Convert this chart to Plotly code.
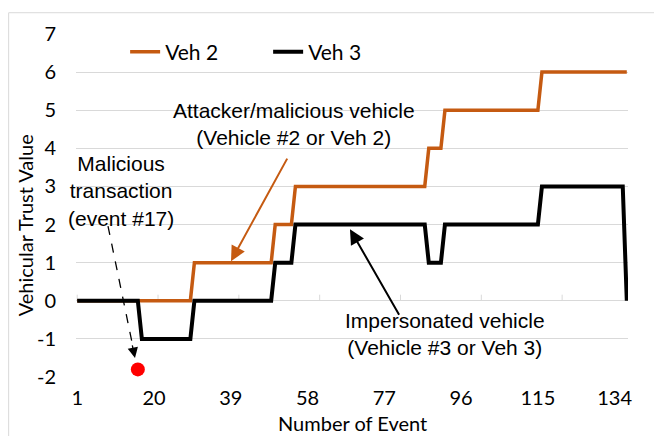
import plotly.graph_objects as go

# ---- data ----
events = list(range(1, 138))
veh2 = [0]*29 + [1]*20 + [2]*5 + [3]*33 + [4]*4 + [5]*24 + [6]*22
veh3 = [0]*16 + [-1]*13 + [0]*20 + [1]*5 + [2]*33 + [1]*4 + [2]*24 + [3]*21 + [0]*1
malicious_event = [16]
malicious_value = [-1.8]
x_tick_vals = [1, 20, 39, 58, 77, 96, 115, 134]
x_tick_text = [str(v) for v in x_tick_vals]
x_minor_ticks = [1, 21, 41, 61, 81, 101, 121]
y_tick_vals = [-2, -1, 0, 1, 2, 3, 4, 5, 6, 7]
y_tick_text = [str(v) for v in y_tick_vals]

ORANGE = "#C55A11"
GRID = "#D9D9D9"
TICKFONT = dict(family="Lato", size=20, color="#000000")
LEGFONT = dict(family="Lato", size=21, color="#000000")
ANNFONT = dict(family="Liberation Sans", size=21, color="#000000")

fig = go.Figure()

# small tick marks on the zero axis line
tx, ty = [], []
for t in x_minor_ticks:
    tx += [t, t, None]
    ty += [0, 0.16, None]
fig.add_trace(go.Scatter(x=tx, y=ty, mode="lines", line=dict(color=GRID, width=1),
                         showlegend=False, hoverinfo="skip"))

fig.add_trace(go.Scatter(x=events, y=veh2, mode="lines", name="Veh 2",
                         line=dict(color=ORANGE, width=3.5)))
fig.add_trace(go.Scatter(x=events, y=veh3, mode="lines", name="Veh 3",
                         line=dict(color="#000000", width=4)))
fig.add_trace(go.Scatter(x=malicious_event, y=malicious_value, mode="markers",
                         marker=dict(color="#FF0000", size=14), showlegend=False))

# dashed pointer to the malicious transaction
fig.add_shape(type="line", xref="x", yref="y", x0=8.62, y0=1.96, x1=15.2, y1=-1.42,
              line=dict(color="#000000", width=1.3, dash="dash"))
fig.add_annotation(x=15.3, y=-1.50, xref="x", yref="y", text="", showarrow=True,
                   arrowhead=2, arrowsize=1.6, arrowwidth=1.3, arrowcolor="#000000",
                   ax=-3, ay=-14)

fig.add_annotation(x=54.65, y=4.63, xref="x", yref="y",
                   text="Attacker/malicious vehicle<br>(Vehicle #2 or Veh 2)",
                   showarrow=False, font=ANNFONT, align="center")
fig.add_annotation(x=39.06, y=1.04, xref="x", yref="y", text="", showarrow=True,
                   arrowhead=2, arrowsize=1.5, arrowwidth=2, arrowcolor=ORANGE,
                   ax=57, ay=-104)

fig.add_annotation(x=11.84, y=2.89, xref="x", yref="y",
                   text="Malicious<br>transaction<br>(event #17)",
                   showarrow=False, font=ANNFONT, align="center")

fig.add_annotation(x=92.0, y=-0.86, xref="x", yref="y",
                   text="Impersonated vehicle<br>(Vehicle #3 or Veh 3)",
                   showarrow=False, font=ANNFONT, align="center")
fig.add_annotation(x=68.5, y=1.88, xref="x", yref="y", text="", showarrow=True,
                   arrowhead=2, arrowsize=1.5, arrowwidth=2, arrowcolor="#000000",
                   ax=50, ay=87)

# axis titles
fig.add_annotation(x=-0.092, y=0.443, xref="paper", yref="paper",
                   xanchor="center", yanchor="middle",
                   text="Vehicular Trust Value", textangle=-90, showarrow=False,
                   font=TICKFONT)
fig.add_annotation(x=0.5, y=-0.134, xref="paper", yref="paper",
                   xanchor="center", yanchor="middle",
                   text="Number of Event", showarrow=False, font=TICKFONT)

# chart-area border
fig.add_shape(type="rect", xref="paper", yref="paper", x0=-0.122, y0=-0.3, x1=1.2, y1=1.062,
              line=dict(color=GRID, width=1), layer="below")

fig.update_layout(
    width=654, height=428,
    margin=dict(l=68, r=34, t=26, b=59, autoexpand=False),
    paper_bgcolor="#FFFFFF", plot_bgcolor="#FFFFFF",
    font=TICKFONT,
    showlegend=True,
    legend=dict(orientation="h", x=0.089, y=0.947, xanchor="left", yanchor="middle",
                font=LEGFONT, bgcolor="rgba(0,0,0,0)", entrywidth=98,
                entrywidthmode="pixels"),
    xaxis=dict(range=[0.7, 137.3], tickmode="array", tickvals=x_tick_vals,
               ticktext=x_tick_text, showgrid=False, zeroline=False, showline=False,
               ticks="", tickfont=TICKFONT, ticklabelstandoff=7, automargin=False),
    yaxis=dict(range=[-2, 7], tickmode="array", tickvals=y_tick_vals,
               ticktext=y_tick_text, showgrid=True,
               gridcolor=GRID, gridwidth=1, zeroline=False, showline=False, ticks="",
               tickfont=TICKFONT, ticklabelstandoff=19, automargin=False),
)

fig.write_html("out.html")
